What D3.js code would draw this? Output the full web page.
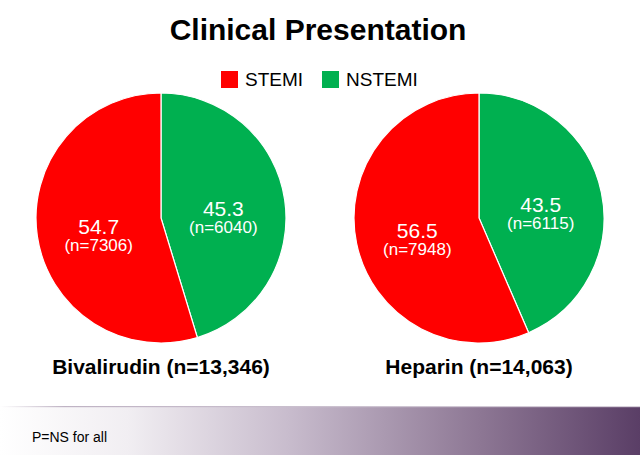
<!DOCTYPE html>
<html><head><meta charset="utf-8">
<script src="https://cdn.jsdelivr.net/npm/d3@7/dist/d3.min.js"></script>
<style>body{margin:0;background:#fff;}svg{display:block;font-family:"Liberation Sans",Arial,sans-serif;}</style>
</head><body>
<script>
const categories = ["NSTEMI", "STEMI"];
const legendOrder = ["STEMI", "NSTEMI"];
const groups = ["Bivalirudin (n=13,346)", "Heparin (n=14,063)"];
const bivalirudinPct = [45.3, 54.7];
const bivalirudinN = [6040, 7306];
const heparinPct = [43.5, 56.5];
const heparinN = [6115, 7948];
const footnote = "P=NS for all";
const title = "Clinical Presentation";

const W = 640, H = 455;
const svg = d3.select("body").append("svg").attr("width", W).attr("height", H);
const color = d3.scaleOrdinal().domain(["STEMI","NSTEMI"]).range(["#ff0000","#00b050"]);

const defs = svg.append("defs");
const g1 = defs.append("linearGradient").attr("id","band").attr("x1","0").attr("x2","1");
g1.append("stop").attr("offset","0").attr("stop-color","#ffffff");
g1.append("stop").attr("offset","0.2").attr("stop-color","#f1eef2");
g1.append("stop").attr("offset","0.45").attr("stop-color","#c8bccd");
g1.append("stop").attr("offset","0.75").attr("stop-color","#8d7794");
g1.append("stop").attr("offset","1").attr("stop-color","#5a3e66");
const g2 = defs.append("linearGradient").attr("id","line").attr("x1","0").attr("x2","1");
g2.append("stop").attr("offset","0").attr("stop-color","#ffffff");
g2.append("stop").attr("offset","0.1").attr("stop-color","#bfb3c4");
g2.append("stop").attr("offset","1").attr("stop-color","#d8d0db");

svg.append("rect").attr("x",0).attr("y",407).attr("width",W).attr("height",H-407).attr("fill","url(#band)");
svg.append("rect").attr("x",0).attr("y",406).attr("width",W).attr("height",1.2).attr("fill","url(#line)");

svg.append("text").attr("x",318).attr("y",40).attr("text-anchor","middle")
  .attr("font-size",30).attr("font-weight","bold").attr("fill","#000").text(title);

const lx = d3.scalePoint().domain(legendOrder).range([221, 322]);
const leg = svg.append("g").selectAll("g").data(legendOrder).join("g")
  .attr("transform", d => `translate(${lx(d)},71)`);
leg.append("rect").attr("width",17).attr("height",17).attr("fill", d => color(d));
leg.append("text").attr("x",24).attr("y",15).attr("font-size",19).attr("fill","#000").text(d => d);

const pie = d3.pie().sort(null).value(d => d.pct);
const R = 125;
const arc = d3.arc().innerRadius(0).outerRadius(R);
const labelArc = d3.arc().innerRadius(63).outerRadius(63);
const cx = d3.scalePoint().domain(groups).range([161, 479]);

const datasets = [
  categories.map((c,i) => ({cat:c, pct:bivalirudinPct[i], n:bivalirudinN[i]})),
  categories.map((c,i) => ({cat:c, pct:heparinPct[i], n:heparinN[i]}))
];

groups.forEach((grp, gi) => {
  const g = svg.append("g").attr("transform", `translate(${cx(grp)},218)`);
  const arcs = pie(datasets[gi]);
  g.selectAll("path").data(arcs).join("path")
    .attr("d", arc).attr("fill", d => color(d.data.cat))
    .attr("stroke","#fff").attr("stroke-width",1.2);
  const lab = g.selectAll("g.lab").data(arcs).join("g").attr("class","lab")
    .attr("transform", d => `translate(${labelArc.centroid(d)})`);
  lab.append("text").attr("text-anchor","middle").attr("y",7).attr("font-size",21)
    .attr("fill","#fff").text(d => d.data.pct.toFixed(1));
  lab.append("text").attr("text-anchor","middle").attr("y",24).attr("font-size",17)
    .attr("fill","#fff").text(d => `(n=${d.data.n})`);
  svg.append("text").attr("x", cx(grp)).attr("y",374).attr("text-anchor","middle")
    .attr("font-size",21).attr("font-weight","bold").attr("fill","#000").text(grp);
});

svg.append("text").attr("x",32).attr("y",442).attr("font-size",14).attr("fill","#000").text(footnote);
</script>
</body></html>
